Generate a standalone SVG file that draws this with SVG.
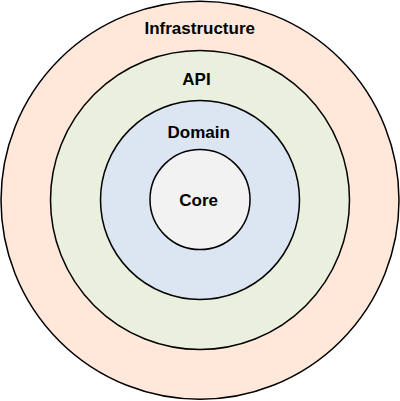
<svg xmlns="http://www.w3.org/2000/svg" width="400" height="401" viewBox="0 0 400 401">
<style>
.ring{stroke:#000;stroke-width:1.5}
.lbl{font-family:"Liberation Sans",Arial,sans-serif;font-weight:bold;font-size:17px;fill:#000;text-anchor:middle}
</style>
<rect width="400" height="401" fill="#fff"/>
<g id="infrastructure">
<circle class="ring" cx="200" cy="200.2" r="199" fill="#ffe8d9"/>
<text class="lbl" x="199.7" y="34">Infrastructure</text>
</g>
<g id="api">
<circle class="ring" cx="200" cy="200" r="149.5" fill="#ebefdd"/>
<text class="lbl" x="196.5" y="84.7">API</text>
</g>
<g id="domain">
<circle class="ring" cx="200" cy="200" r="99.5" fill="#dce6f2"/>
<text class="lbl" x="198.7" y="138">Domain</text>
</g>
<g id="core">
<circle class="ring" cx="200" cy="199.5" r="50" fill="#f2f2f2"/>
<text class="lbl" x="198.7" y="205.5">Core</text>
</g>
<g id="connectors"/>
</svg>
